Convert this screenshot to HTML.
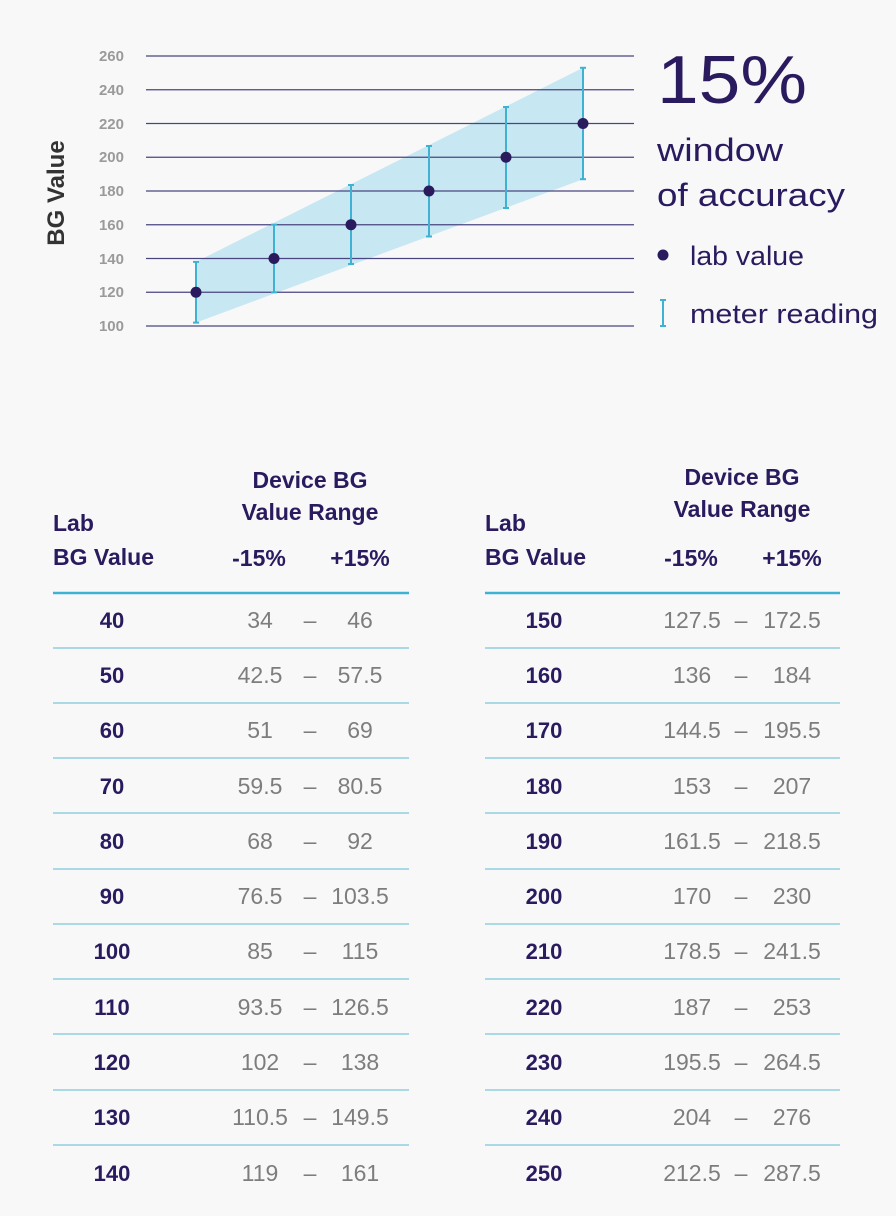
<!DOCTYPE html>
<html><head><meta charset="utf-8"><style>
html,body{margin:0;padding:0;background:#f8f8f9;}
svg{display:block;}
text{font-family:"Liberation Sans",sans-serif;}
</style></head><body>
<svg width="896" height="1216" viewBox="0 0 896 1216" xmlns="http://www.w3.org/2000/svg">
<rect width="896" height="1216" fill="#f8f8f9"/>
<polygon points="196,261.9 583,67.8 583,179.2 196,322.6" fill="#c7e7f2"/>
<g stroke="#4a4580" stroke-width="1.2">
<line x1="146" y1="56" x2="634" y2="56"/><line x1="146" y1="89.75" x2="634" y2="89.75"/>
<line x1="146" y1="123.5" x2="634" y2="123.5"/><line x1="146" y1="157.25" x2="634" y2="157.25"/>
<line x1="146" y1="191" x2="634" y2="191"/><line x1="146" y1="224.75" x2="634" y2="224.75"/>
<line x1="146" y1="258.5" x2="634" y2="258.5"/><line x1="146" y1="292.25" x2="634" y2="292.25"/>
<line x1="146" y1="326" x2="634" y2="326"/>
</g>
<g font-size="15" font-weight="bold" fill="#9a9a9a" text-anchor="end">
<text x="124" y="61">260</text><text x="124" y="95">240</text><text x="124" y="129">220</text>
<text x="124" y="162">200</text><text x="124" y="196">180</text><text x="124" y="230">160</text>
<text x="124" y="264">140</text><text x="124" y="297">120</text><text x="124" y="331">100</text>
</g>
<text transform="translate(64,193) rotate(-90)" text-anchor="middle" font-size="24" font-weight="bold" fill="#333">BG Value</text>
<g stroke="#3fb2d3" stroke-width="2">
<line x1="196" y1="261.9" x2="196" y2="322.6"/><line x1="193" y1="261.9" x2="199" y2="261.9"/><line x1="193" y1="322.6" x2="199" y2="322.6"/>
<line x1="274" y1="224.7" x2="274" y2="292.3"/><line x1="271" y1="224.7" x2="277" y2="224.7"/><line x1="271" y1="292.3" x2="277" y2="292.3"/>
<line x1="351" y1="185" x2="351" y2="264"/><line x1="348" y1="185" x2="354" y2="185"/><line x1="348" y1="264" x2="354" y2="264"/>
<line x1="429" y1="146" x2="429" y2="236.5"/><line x1="426" y1="146" x2="432" y2="146"/><line x1="426" y1="236.5" x2="432" y2="236.5"/>
<line x1="506" y1="107" x2="506" y2="208"/><line x1="503" y1="107" x2="509" y2="107"/><line x1="503" y1="208" x2="509" y2="208"/>
<line x1="583" y1="67.8" x2="583" y2="179.2"/><line x1="580" y1="67.8" x2="586" y2="67.8"/><line x1="580" y1="179.2" x2="586" y2="179.2"/>
</g>
<g fill="#2a1a5e">
<circle cx="196" cy="292.25" r="5.5"/><circle cx="274" cy="258.5" r="5.5"/><circle cx="351" cy="224.75" r="5.5"/>
<circle cx="429" cy="191" r="5.5"/><circle cx="506" cy="157.25" r="5.5"/><circle cx="583" cy="123.5" r="5.5"/>
</g>
<g fill="#2a1a5e">
<text x="657" y="103" font-size="68" textLength="150" lengthAdjust="spacingAndGlyphs">15%</text>
<text x="657" y="161" font-size="32" textLength="126" lengthAdjust="spacingAndGlyphs">window</text>
<text x="657" y="206" font-size="32" textLength="188" lengthAdjust="spacingAndGlyphs">of accuracy</text>
<circle cx="663" cy="255" r="5.5"/>
<text x="690" y="265" font-size="27" textLength="114" lengthAdjust="spacingAndGlyphs">lab value</text>
<text x="690" y="323" font-size="27" textLength="188" lengthAdjust="spacingAndGlyphs">meter reading</text>
</g>
<g stroke="#3fb2d3" stroke-width="2"><line x1="663" y1="300" x2="663" y2="326"/><line x1="660" y1="300" x2="666" y2="300"/><line x1="660" y1="326" x2="666" y2="326"/></g>
<g fill="#2a1a5e" font-weight="bold" font-size="23">
<text x="53" y="531">Lab</text><text x="53" y="565">BG Value</text>
<text x="310" y="488" text-anchor="middle">Device BG</text><text x="310" y="520" text-anchor="middle">Value Range</text>
<text x="259" y="566" text-anchor="middle">-15%</text><text x="360" y="566" text-anchor="middle">+15%</text>
<text x="485" y="531">Lab</text><text x="485" y="565">BG Value</text>
<text x="742" y="485" text-anchor="middle">Device BG</text><text x="742" y="517" text-anchor="middle">Value Range</text>
<text x="691" y="566" text-anchor="middle">-15%</text><text x="792" y="566" text-anchor="middle">+15%</text>
</g>
<g stroke="#3fb2d3" stroke-width="2.5"><line x1="53" y1="593" x2="409" y2="593"/><line x1="485" y1="593" x2="840" y2="593"/></g>
<g stroke="#7cc6dc" stroke-width="1.2">
<line x1="53" y1="648" x2="409" y2="648"/><line x1="485" y1="648" x2="840" y2="648"/>
<line x1="53" y1="703" x2="409" y2="703"/><line x1="485" y1="703" x2="840" y2="703"/>
<line x1="53" y1="758" x2="409" y2="758"/><line x1="485" y1="758" x2="840" y2="758"/>
<line x1="53" y1="813" x2="409" y2="813"/><line x1="485" y1="813" x2="840" y2="813"/>
<line x1="53" y1="869" x2="409" y2="869"/><line x1="485" y1="869" x2="840" y2="869"/>
<line x1="53" y1="924" x2="409" y2="924"/><line x1="485" y1="924" x2="840" y2="924"/>
<line x1="53" y1="979" x2="409" y2="979"/><line x1="485" y1="979" x2="840" y2="979"/>
<line x1="53" y1="1034" x2="409" y2="1034"/><line x1="485" y1="1034" x2="840" y2="1034"/>
<line x1="53" y1="1090" x2="409" y2="1090"/><line x1="485" y1="1090" x2="840" y2="1090"/>
<line x1="53" y1="1145" x2="409" y2="1145"/><line x1="485" y1="1145" x2="840" y2="1145"/>
</g>
<g font-size="22" font-weight="bold" fill="#2a1a5e" text-anchor="middle">
<text x="112" y="628">40</text><text x="112" y="683">50</text><text x="112" y="738">60</text><text x="112" y="794">70</text>
<text x="112" y="849">80</text><text x="112" y="904">90</text><text x="112" y="959">100</text><text x="112" y="1015">110</text>
<text x="112" y="1070">120</text><text x="112" y="1125">130</text><text x="112" y="1181">140</text>
<text x="544" y="628">150</text><text x="544" y="683">160</text><text x="544" y="738">170</text><text x="544" y="794">180</text>
<text x="544" y="849">190</text><text x="544" y="904">200</text><text x="544" y="959">210</text><text x="544" y="1015">220</text>
<text x="544" y="1070">230</text><text x="544" y="1125">240</text><text x="544" y="1181">250</text>
</g>
<g font-size="23" fill="#7d7d7d" text-anchor="middle">
<text x="260" y="628">34</text><text x="310" y="628">–</text><text x="360" y="628">46</text>
<text x="260" y="683">42.5</text><text x="310" y="683">–</text><text x="360" y="683">57.5</text>
<text x="260" y="738">51</text><text x="310" y="738">–</text><text x="360" y="738">69</text>
<text x="260" y="794">59.5</text><text x="310" y="794">–</text><text x="360" y="794">80.5</text>
<text x="260" y="849">68</text><text x="310" y="849">–</text><text x="360" y="849">92</text>
<text x="260" y="904">76.5</text><text x="310" y="904">–</text><text x="360" y="904">103.5</text>
<text x="260" y="959">85</text><text x="310" y="959">–</text><text x="360" y="959">115</text>
<text x="260" y="1015">93.5</text><text x="310" y="1015">–</text><text x="360" y="1015">126.5</text>
<text x="260" y="1070">102</text><text x="310" y="1070">–</text><text x="360" y="1070">138</text>
<text x="260" y="1125">110.5</text><text x="310" y="1125">–</text><text x="360" y="1125">149.5</text>
<text x="260" y="1181">119</text><text x="310" y="1181">–</text><text x="360" y="1181">161</text>
<text x="692" y="628">127.5</text><text x="741" y="628">–</text><text x="792" y="628">172.5</text>
<text x="692" y="683">136</text><text x="741" y="683">–</text><text x="792" y="683">184</text>
<text x="692" y="738">144.5</text><text x="741" y="738">–</text><text x="792" y="738">195.5</text>
<text x="692" y="794">153</text><text x="741" y="794">–</text><text x="792" y="794">207</text>
<text x="692" y="849">161.5</text><text x="741" y="849">–</text><text x="792" y="849">218.5</text>
<text x="692" y="904">170</text><text x="741" y="904">–</text><text x="792" y="904">230</text>
<text x="692" y="959">178.5</text><text x="741" y="959">–</text><text x="792" y="959">241.5</text>
<text x="692" y="1015">187</text><text x="741" y="1015">–</text><text x="792" y="1015">253</text>
<text x="692" y="1070">195.5</text><text x="741" y="1070">–</text><text x="792" y="1070">264.5</text>
<text x="692" y="1125">204</text><text x="741" y="1125">–</text><text x="792" y="1125">276</text>
<text x="692" y="1181">212.5</text><text x="741" y="1181">–</text><text x="792" y="1181">287.5</text>
</g>
</svg>
</body></html>
